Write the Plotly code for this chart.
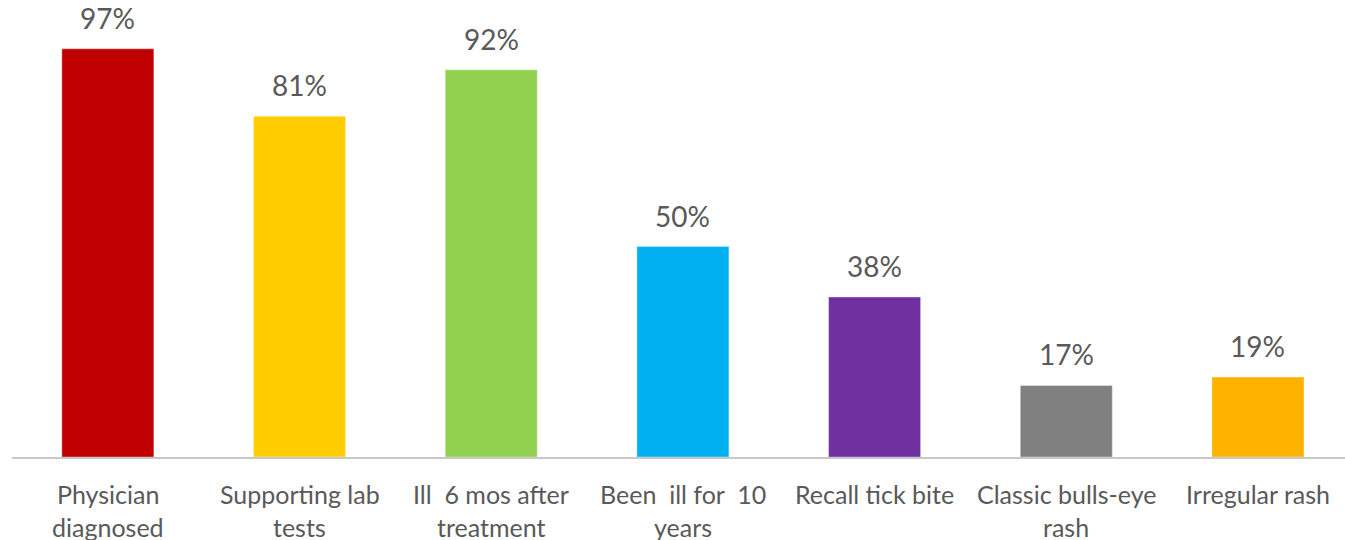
import plotly.graph_objects as go

categories = ["Physician<br>diagnosed", "Supporting lab<br>tests", "Ill  6 mos after<br>treatment",
              "Been  ill for  10<br>years", "Recall tick bite", "Classic bulls-eye<br>rash", "Irregular rash"]
values = [97, 81, 92, 50, 38, 17, 19]
value_labels = ["97%", "81%", "92%", "50%", "38%", "17%", "19%"]
colors = ["#C00000", "#FFCC00", "#92D050", "#00B0F0", "#7030A0", "#808080", "#FFB300"]

FONT = "Lato"
TXT = "#595959"

fig = go.Figure(go.Bar(
    x=list(range(len(categories))), y=values,
    marker=dict(color=colors, line=dict(color="rgba(255,255,255,0.35)", width=1)),
    width=0.48, hoverinfo="skip",
))

ann = []
for i, (v, lab) in enumerate(zip(values, value_labels)):
    ann.append(dict(x=i, y=v, xref="x", yref="y", text=lab, showarrow=False,
                    yanchor="middle", yshift=31, font=dict(family=FONT, size=28, color=TXT)))
for i, cat in enumerate(categories):
    for j, line in enumerate(cat.split("<br>")):
        ann.append(dict(x=i, y=0, xref="x", yref="y", text=line, showarrow=False,
                        yanchor="middle", yshift=-37 - 33 * j,
                        font=dict(family=FONT, size=25, color=TXT)))

fig.update_layout(
    width=1345, height=540,
    margin=dict(l=12, r=0, t=0, b=83),
    paper_bgcolor="white", plot_bgcolor="white",
    showlegend=False,
    annotations=ann,
    xaxis=dict(range=[-0.5, 6.454], showticklabels=False, ticks="", showgrid=False,
               showline=True, linecolor="#C8C8C8", linewidth=2, zeroline=False, fixedrange=True),
    yaxis=dict(range=[0, 108.6], visible=False, fixedrange=True),
)

fig.write_html("out.html", config={"displayModeBar": False},
               post_script="document.body.style.margin='0';document.body.style.overflow='hidden';")
